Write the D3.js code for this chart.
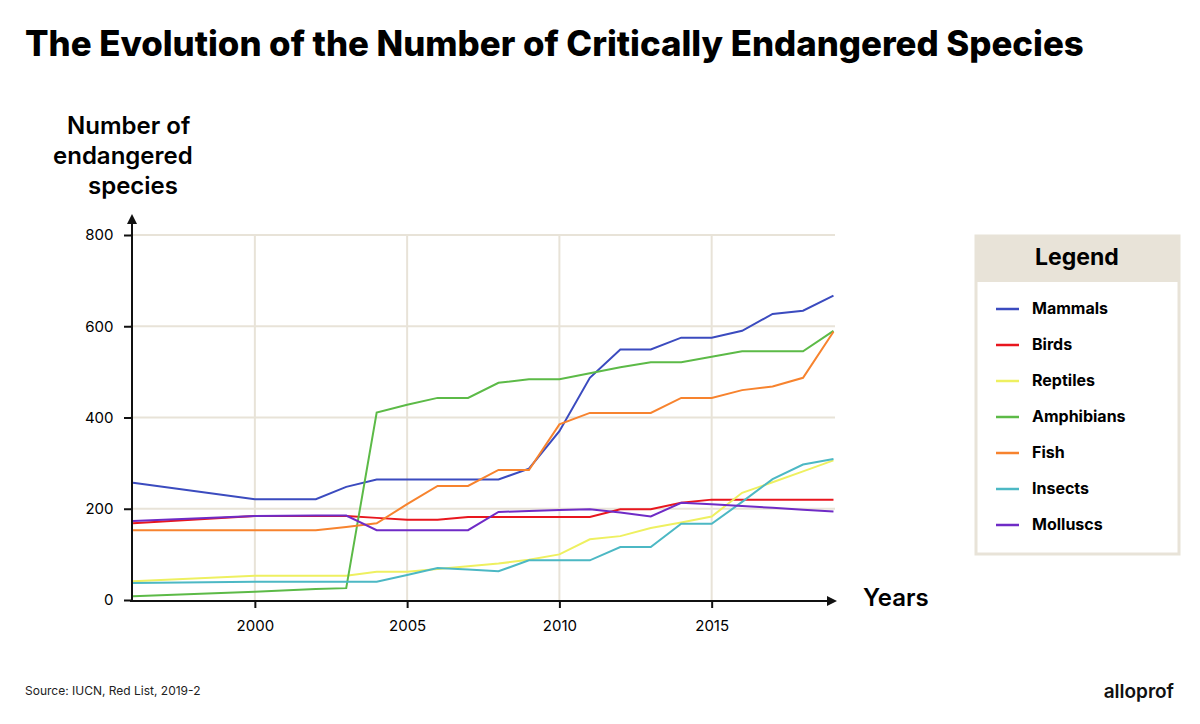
<!DOCTYPE html><html><head><meta charset="utf-8"><script src="https://cdn.jsdelivr.net/npm/d3@7"></script>
<style>body{margin:0;background:#fff;font-family:Inter,Lato,sans-serif}</style></head><body><svg id="c" width="1200" height="724"></svg>
<script>
const years=[1996,2000,2002,2003,2004,2005,2006,2007,2008,2009,2010,2011,2012,2013,2014,2015,2016,2017,2018,2019];
const mammals=[257,221,221,248,264,264,264,264,264,288,370,487,549,549,575,575,590,627,634,667];
const birds=[168,184,184,184,180,176,176,182,182,182,182,182,199,199,213,220,220,220,220,220];
const reptiles=[41,53,53,53,62,62,68,74,80,88,100,133,140,158,170,183,235,258,282,306];
const amphibians=[8,18,24,26,411,428,443,443,476,484,484,497,510,521,521,533,545,545,545,590];
const fish=[153,153,153,160,168,210,250,250,285,285,385,410,410,410,443,443,460,468,487,588];
const insects=[37,40,40,40,40,55,70,67,63,87,87,87,116,116,167,167,215,265,297,309];
const molluscs=[173,184,185,185,153,153,153,153,193,195,197,199,192,183,213,210,206,202,198,194];
const seriesNames=["Mammals","Birds","Reptiles","Amphibians","Fish","Insects","Molluscs"];
const seriesData=[mammals,birds,reptiles,amphibians,fish,insects,molluscs];
const colors=["#3b4bbf","#e8161e","#eef060","#5cba47","#f7832e","#4cb8c4","#6f2bc6"];
const xTicks=[2000,2005,2010,2015], yTicks=[0,200,400,600,800];

const svg=d3.select("#c");
const x=d3.scaleLinear().domain([1995.9,2019.05]).range([130,835]);
const y=d3.scaleLinear().domain([0,800]).range([600,235]);
svg.append("text").attr("x",25).attr("y",56).attr("font-size",34.8).attr("font-weight",800).attr("fill","#000").text("The Evolution of the Number of Critically Endangered Species");
svg.selectAll(".gx").data(xTicks).enter().append("line").attr("x1",d=>x(d)).attr("x2",d=>x(d)).attr("y1",y(800)).attr("y2",600).attr("stroke","#e8e3d8").attr("stroke-width",2);
svg.selectAll(".gy").data(yTicks.slice(1)).enter().append("line").attr("x1",130).attr("x2",835).attr("y1",d=>y(d)).attr("y2",d=>y(d)).attr("stroke","#e8e3d8").attr("stroke-width",2);
const line=d3.line().x((d,i)=>x(years[i])).y(d=>y(d));
seriesData.forEach((s,k)=>svg.append("path").attr("d",line(s)).attr("fill","none").attr("stroke",colors[k]).attr("stroke-width",2));
const xa=svg.append("g").attr("transform","translate(0,600)").call(d3.axisBottom(x).tickValues(xTicks).tickFormat(d3.format("d")).tickSize(8));
xa.select(".domain").remove();
xa.selectAll("text").attr("font-size",15).attr("font-family","Inter,Lato,sans-serif").attr("dy","1.3em").attr("fill","#000");
xa.selectAll("line").attr("stroke","#111").attr("stroke-width",2);
const ya=svg.append("g").attr("transform","translate(132,0)").call(d3.axisLeft(y).tickValues(yTicks).tickSize(8));
ya.select(".domain").remove();
ya.selectAll("text").attr("font-size",15).attr("font-family","Inter,Lato,sans-serif").attr("dx","-0.5em").attr("fill","#000");
ya.selectAll("line").attr("stroke","#111").attr("stroke-width",2);
svg.append("line").attr("x1",130).attr("x2",830).attr("y1",601).attr("y2",601).attr("stroke","#111").attr("stroke-width",2);
svg.append("path").attr("d","M837,601 L827,596 L827,606 Z").attr("fill","#111");
svg.append("line").attr("x1",132).attr("x2",132).attr("y1",222).attr("y2",602).attr("stroke","#111").attr("stroke-width",2);
svg.append("path").attr("d","M132,214 L127,224 L137,224 Z").attr("fill","#111");
["Number of","endangered","species"].forEach((t,i)=>svg.append("text").attr("x",i==2?88:i==1?53:67).attr("y",134+i*30).attr("font-size",24).attr("font-weight",600).text(t));
svg.append("text").attr("x",863).attr("y",606).attr("font-size",24).attr("font-weight",600).text("Years");
svg.append("rect").attr("x",976).attr("y",236).attr("width",203).attr("height",318).attr("fill","#fff").attr("stroke","#e8e3d8").attr("stroke-width",3);
svg.append("rect").attr("x",976).attr("y",236).attr("width",203).attr("height",46).attr("fill","#e8e3d8");
svg.append("text").attr("x",1077).attr("y",265).attr("text-anchor","middle").attr("font-size",23).attr("font-weight",700).text("Legend");
seriesNames.forEach((n,i)=>{const yy=309+i*36;
 svg.append("line").attr("x1",996).attr("x2",1019).attr("y1",yy).attr("y2",yy).attr("stroke",colors[i]).attr("stroke-width",2.5);
 svg.append("text").attr("x",1032).attr("y",yy+5).attr("font-size",16).attr("font-weight",700).text(n);});
svg.append("text").attr("x",25).attr("y",695).attr("font-size",12).attr("fill","#222").text("Source: IUCN, Red List, 2019-2");
svg.append("text").attr("x",1174).attr("y",698).attr("text-anchor","end").attr("font-size",19).attr("font-weight",600).attr("fill","#111").text("alloprof");
</script></body></html>
